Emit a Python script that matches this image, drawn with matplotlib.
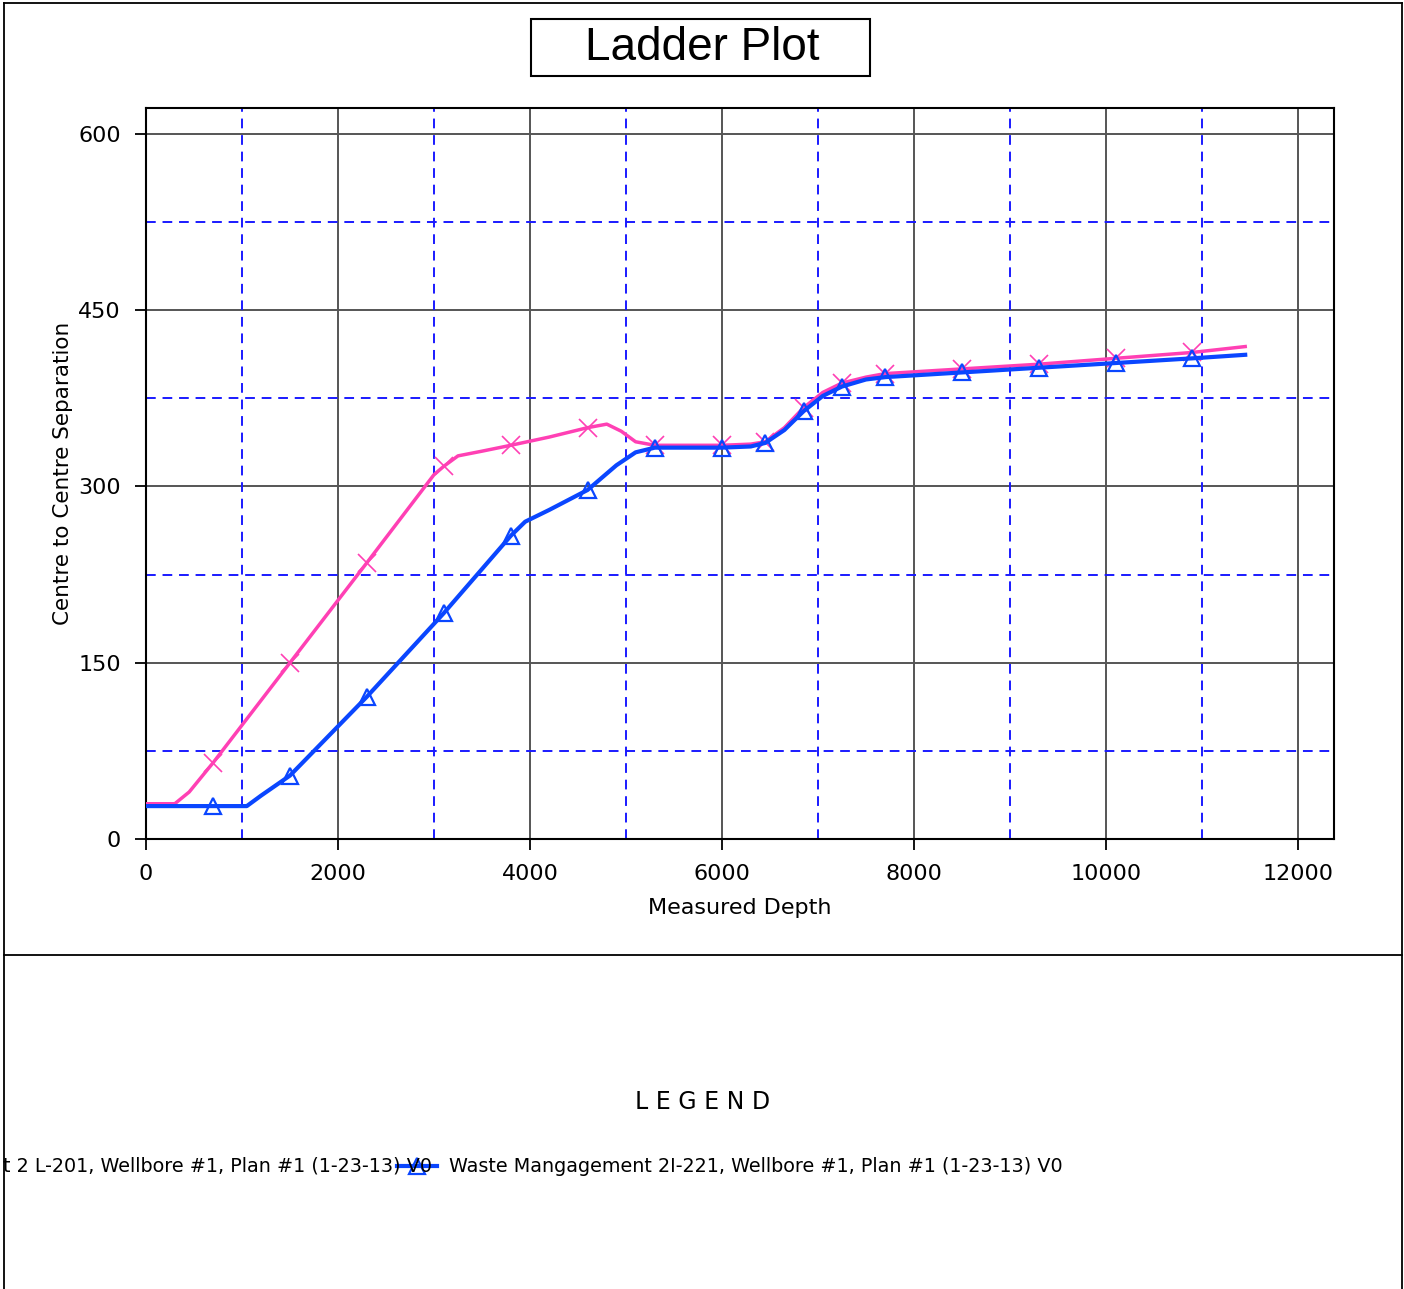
import matplotlib
matplotlib.use("Agg")
import matplotlib.pyplot as plt
from matplotlib.lines import Line2D
from matplotlib.patches import Rectangle
import numpy as np

# ---- data ----
pink_depth = [0, 300, 450, 700, 1500, 2300, 3000, 3100, 3250, 3500, 3800, 4200,
              4600, 4800, 4950, 5100, 5300, 6000, 6300, 6450, 6650, 6850, 7050,
              7250, 7500, 7700, 8500, 9300, 10100, 10900, 11450]
pink_sep = [30, 30, 40, 65, 150, 235, 310, 317, 326, 330, 335, 342,
            350, 353, 347, 338, 335, 335, 336, 338, 350, 367, 380,
            388, 393, 396, 400, 404, 409, 414, 419]
blue_depth = [0, 700, 1050, 1200, 1500, 2300, 3100, 3800, 3950, 4200, 4600, 4900,
              5100, 5300, 6000, 6300, 6450, 6650, 6850, 7050, 7250, 7500, 7700,
              8500, 9300, 10100, 10900, 11450]
blue_sep = [28, 28, 28, 37, 54, 121, 192, 258, 270, 280, 297, 318,
            329, 333, 333, 334, 337, 348, 364, 377, 385, 391, 393,
            397, 401, 405, 409, 412]
marker_depths = [700, 1500, 2300, 3100, 3800, 4600, 5300, 6000, 6450, 6850,
                 7250, 7700, 8500, 9300, 10100, 10900]
x_major = [0, 2000, 4000, 6000, 8000, 10000, 12000]
x_minor = [1000, 3000, 5000, 7000, 9000, 11000]
y_major = [0, 150, 300, 450, 600]
y_minor = [75, 225, 375, 525]

title = "Ladder Plot"
xlabel = "Measured Depth"
ylabel = "Centre to Centre Separation"
legend_title = "L E G E N D"
legend_left = "t 2 L-201, Wellbore #1, Plan #1 (1-23-13) V0"
legend_right = "Waste Mangagement 2I-221, Wellbore #1, Plan #1 (1-23-13) V0"

PINK = "#ff40b4"
BLUE = "#0a46ff"
GRIDBLUE = "#1a1aff"

plt.rcParams['font.family'] = ['DejaVu Sans']

W, H = 1404, 1289
fig = plt.figure(figsize=(W / 100, H / 100), dpi=100)

def fx(px):
    return px / W

def fy(py):
    return 1 - py / H

# outer frame lines
for (x0, y0, x1, y1) in [(4, 3, 1402, 3), (4, 3, 4, 1289), (1402, 3, 1402, 1289), (4, 955, 1402, 955)]:
    fig.add_artist(Line2D([fx(x0), fx(x1)], [fy(y0), fy(y1)], color="black", lw=1.3,
                          transform=fig.transFigure))

# title box
fig.add_artist(Rectangle((fx(531), fy(76)), fx(870) - fx(531), fy(19) - fy(76),
                         transform=fig.transFigure, fill=False, ec="black", lw=1.5))
fig.text(fx(702), fy(48), title, ha="center", va="center", fontsize=33,
         family="Liberation Sans")

ax = fig.add_axes([fx(146), fy(839), fx(1334) - fx(146), fy(108) - fy(839)])
ax.set_xlim(0, 12375)
ax.set_ylim(0, 622)

ax.set_xticks(x_major)
ax.set_xticks(x_minor, minor=True)
ax.set_yticks(y_major)
ax.set_yticks(y_minor, minor=True)
ax.tick_params(which="major", direction="out", length=8, width=1.3, labelsize=16)
ax.tick_params(axis="x", which="major", pad=10)
ax.tick_params(axis="y", which="major", pad=10)
ax.tick_params(which="minor", length=0)

for v in x_major[1:]:
    ax.axvline(v, color="#555555", lw=1.4, zorder=0.5)
for v in y_major[1:]:
    ax.axhline(v, color="#555555", lw=1.4, zorder=0.5)
for v in x_minor:
    ax.axvline(v, color=GRIDBLUE, lw=1.4, ls=(0, (5, 3.5)), zorder=0.6)
for v in y_minor:
    ax.axhline(v, color=GRIDBLUE, lw=1.4, ls=(0, (5, 3.5)), zorder=0.6)

for s in ax.spines.values():
    s.set_linewidth(1.5)

pink_idx = [pink_depth.index(d) for d in marker_depths]
blue_idx = [blue_depth.index(d) for d in marker_depths]

ax.plot(pink_depth, pink_sep, color=PINK, lw=2.5, zorder=3)
ax.plot(np.array(pink_depth)[pink_idx], np.array(pink_sep)[pink_idx], ls="none",
        marker="x", ms=13, mew=1.2, color=PINK, zorder=3)
ax.plot(blue_depth, blue_sep, color=BLUE, lw=3, zorder=4)
ax.plot(np.array(blue_depth)[blue_idx], np.array(blue_sep)[blue_idx], ls="none",
        marker="^", ms=12, mew=1.6, mfc="none", mec=BLUE, zorder=4)

ax.set_xlabel(xlabel, fontsize=16, labelpad=10)
ax.set_ylabel(ylabel, fontsize=15.5, labelpad=4)

# legend area
fig.text(fx(703), fy(1102), legend_title, ha="center", va="center", fontsize=17)
fig.text(fx(432), fy(1166), legend_left, ha="right", va="center", fontsize=13.8)
fig.add_artist(Line2D([fx(397), fx(437)], [fy(1166), fy(1166)], color=BLUE, lw=3,
                      transform=fig.transFigure))
fig.add_artist(Line2D([fx(417)], [fy(1166)], marker="^", ms=12, mew=1.6, mfc="none",
                      mec=BLUE, transform=fig.transFigure))
fig.text(fx(449), fy(1166), legend_right, ha="left", va="center", fontsize=13.8)

fig.savefig("out.png", dpi=100)
